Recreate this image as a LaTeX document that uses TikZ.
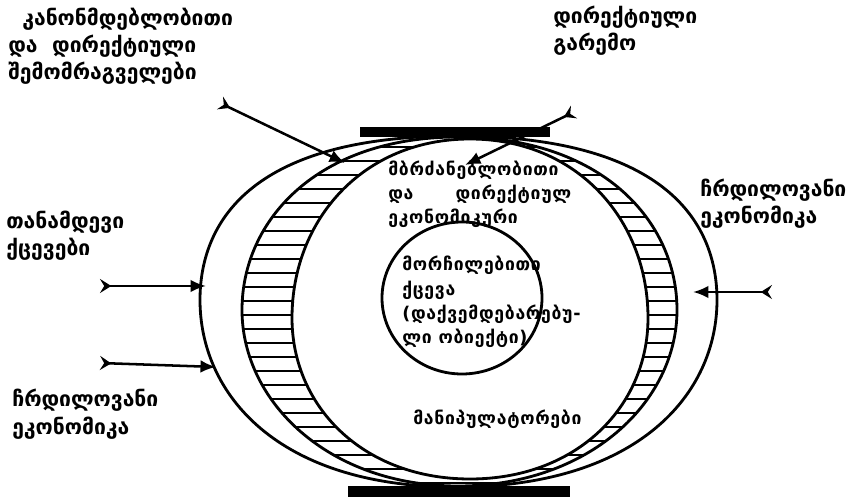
\documentclass[tikz,border=0pt]{standalone}
\usepackage{fontspec}
\setmainfont{DejaVu Sans}
\newfontfamily\geosmall{DejaVu Sans}[LetterSpace=4]
\usetikzlibrary{arrows.meta}

% rounded oval: {left}{right}{top}{bottom}{top/bottom x}{side y}{side k}{top k}{bottom k}
\newcommand\ovalpath[9]{(#1,#6) .. controls (#1,{#6-#7*(#6-#3)}) and ({#5-#8*(#5-#1)},#3) .. (#5,#3)
  .. controls ({#5+#8*(#2-#5)},#3) and (#2,{#6-#7*(#6-#3)}) .. (#2,#6)
  .. controls (#2,{#6+#7*(#4-#6)}) and ({#5+#9*(#2-#5)},#4) .. (#5,#4)
  .. controls ({#5-#9*(#5-#1)},#4) and (#1,{#6+#7*(#4-#6)}) .. cycle}

\tikzset{
  biglbl/.style={font=\bfseries\fontsize{15}{19.5}\selectfont, align=left, anchor=base west, inner sep=0pt},
  smalllbl/.style={font=\geosmall\bfseries\fontsize{12.5}{17.4}\selectfont, align=left, anchor=base west, inner sep=0pt},
  ring/.style={line width=2pt},
  hatch/.style={line width=1.3pt},
  feather/.style={line width=1.8pt, {Stealth[reversed,length=8pt,width=10pt,inset=3pt]}-{Latex[length=11pt,width=9pt]}},
}

\begin{document}
\begin{tikzpicture}[x=0.025cm,y=-0.025cm]
  \useasboundingbox (0,0) rectangle (848,497);
  % rings
  \draw[ring] \ovalpath{200}{717}{136}{487}{456}{300}{0.5}{0.78}{0.7};
  \draw[ring] \ovalpath{242}{677}{137}{486}{458}{310}{0.52}{0.65}{0.6};
  \begin{scope}
    \clip \ovalpath{242}{677}{137}{486}{458}{310}{0.52}{0.65}{0.6};
    \foreach \y in {147,161,...,487} \draw[hatch] (200,\y) -- (720,\y);
  \end{scope}
  \draw[ring,fill=white] \ovalpath{292}{648}{139}{479}{470}{318}{0.55}{0.6}{0.6};
  \draw[ring] (462,298) ellipse [x radius=80, y radius=76];
  \fill (360,127) rectangle (550,137);
  \fill (348,486) rectangle (570,497);

  % labels (placed at the baseline of their last line)
  \node[biglbl] (law) at (8,80) {\hspace*{10pt}კანონმდებლობითი\\და\ \ დირექტიული\\შემომრაგველები};
  \node[biglbl] (env) at (553,51) {დირექტიული\\გარემო};
  \node[biglbl] (side) at (6,256) {თანამდევი\\ქცევები};
  \node[biglbl] (shadowr) at (700,224) {ჩრდილოვანი\\ეკონომიკა};
  \node[biglbl] (shadowl) at (12,434) {ჩრდილოვანი\\ეკონომიკა};
  \node[smalllbl] (command) at (388,224) {მბრძანებლობითი\\და\hspace{30pt}დირექტიულ\\ეკონომიკური};
  \node[smalllbl] (obey) at (402,344) {მორჩილებითი\\ქცევა\\(დაქვემდებარებუ-\\ლი ობიექტი)};
  \node[smalllbl] (manip) at (413,425) {მანიპულატორები};

  % arrows
  \coordinate (lawtail) at (220,103);  \coordinate (lawtip) at (345,163);
  \coordinate (envtail) at (574,112);  \coordinate (envtip) at (465,165);
  \coordinate (sidetail) at (100,286); \coordinate (sidetip) at (206,286);
  \coordinate (shltail) at (100,363);  \coordinate (shltip) at (216,367);
  \coordinate (shrtail) at (772,292);  \coordinate (shrtip) at (693,292);
  \draw[feather] (lawtail) -- (lawtip);
  \draw[feather] (envtail) -- (envtip);
  \draw[feather] (sidetail) -- (sidetip);
  \draw[feather] (shltail) -- (shltip);
  \draw[feather] (shrtail) -- (shrtip);
\end{tikzpicture}
\end{document}
